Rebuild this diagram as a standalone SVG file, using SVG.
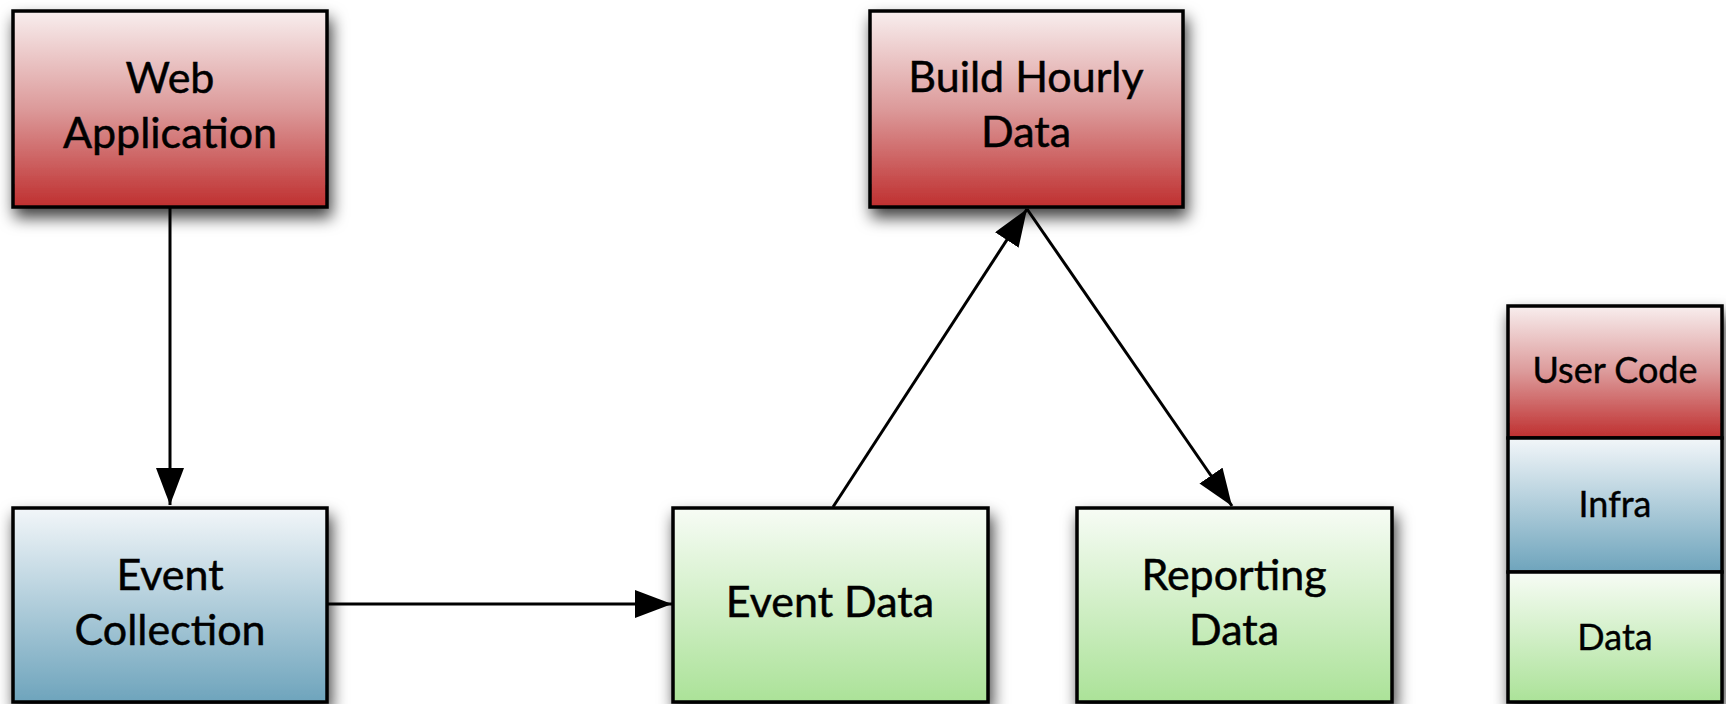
<svg xmlns="http://www.w3.org/2000/svg" width="1726" height="704" viewBox="0 0 1726 704">
  <style>
    .box { stroke: #000; stroke-width: 3.5; }
    .lbl { font-family: Lato, "Open Sans", "Liberation Sans", sans-serif; font-size: 43px; fill: #000; stroke: #000; stroke-width: 0.5; text-anchor: middle; }
    .leg { font-family: Lato, "Open Sans", "Liberation Sans", sans-serif; font-size: 36px; fill: #000; stroke: #000; stroke-width: 0.4; text-anchor: middle; }
    .edge { stroke: #000; stroke-width: 3; fill: none; }
  </style>
  <defs>
    <linearGradient id="gRed" x1="0" y1="0" x2="0" y2="1">
      <stop offset="0" stop-color="#f8eeee"/>
      <stop offset="0.5" stop-color="#dc9a9a"/>
      <stop offset="1" stop-color="#bf2f2f"/>
    </linearGradient>
    <linearGradient id="gBlue" x1="0" y1="0" x2="0" y2="1">
      <stop offset="0" stop-color="#f2f6f9"/>
      <stop offset="1" stop-color="#6ea4bc"/>
    </linearGradient>
    <linearGradient id="gGreen" x1="0" y1="0" x2="0" y2="1">
      <stop offset="0" stop-color="#f7fcf5"/>
      <stop offset="1" stop-color="#abe298"/>
    </linearGradient>
    <filter id="shadow" x="-20%" y="-20%" width="140%" height="150%">
      <feDropShadow dx="3" dy="9" stdDeviation="8" flood-color="#000" flood-opacity="0.75"/>
    </filter>
    <marker id="arrow" viewBox="0 0 37 28" refX="37" refY="14" markerWidth="37" markerHeight="28" markerUnits="userSpaceOnUse" orient="auto">
      <path d="M0,0 L37,14 L0,28 Z" fill="#000"/>
    </marker>
  </defs>

  <!-- connectors -->
  <g id="connectors">
    <line class="edge" x1="170" y1="207" x2="170" y2="505" marker-end="url(#arrow)"/>
    <line class="edge" x1="327" y1="604" x2="672" y2="604" marker-end="url(#arrow)"/>
    <line class="edge" x1="833" y1="507" x2="1027" y2="209" marker-end="url(#arrow)"/>
    <line class="edge" x1="1027" y1="209" x2="1232" y2="506" marker-end="url(#arrow)"/>
  </g>

  <g id="web-application">
    <rect class="box" x="13" y="11" width="314" height="196" fill="url(#gRed)" filter="url(#shadow)"/>
    <text class="lbl" x="170" y="93">Web</text>
    <text class="lbl" x="170" y="148">Application</text>
  </g>

  <g id="build-hourly-data">
    <rect class="box" x="870" y="11" width="313" height="196" fill="url(#gRed)" filter="url(#shadow)"/>
    <text class="lbl" x="1026" y="92">Build Hourly</text>
    <text class="lbl" x="1026" y="147">Data</text>
  </g>

  <g id="event-collection">
    <rect class="box" x="13" y="508" width="314" height="194" fill="url(#gBlue)" filter="url(#shadow)"/>
    <text class="lbl" x="170" y="590">Event</text>
    <text class="lbl" x="170" y="645">Collection</text>
  </g>

  <g id="event-data">
    <rect class="box" x="673" y="508" width="315" height="194" fill="url(#gGreen)" filter="url(#shadow)"/>
    <text class="lbl" x="830" y="617">Event Data</text>
  </g>

  <g id="reporting-data">
    <rect class="box" x="1077" y="508" width="315" height="194" fill="url(#gGreen)" filter="url(#shadow)"/>
    <text class="lbl" x="1234" y="590">Reporting</text>
    <text class="lbl" x="1234" y="645">Data</text>
  </g>

  <g id="legend">
    <g filter="url(#shadow)">
      <rect class="box" x="1508" y="306" width="214" height="132" fill="url(#gRed)"/>
      <rect class="box" x="1508" y="438" width="214" height="134" fill="url(#gBlue)"/>
      <rect class="box" x="1508" y="572" width="214" height="130" fill="url(#gGreen)"/>
    </g>
    <text class="leg" x="1615" y="383">User Code</text>
    <text class="leg" x="1615" y="517">Infra</text>
    <text class="leg" x="1615" y="650">Data</text>
  </g>
</svg>
